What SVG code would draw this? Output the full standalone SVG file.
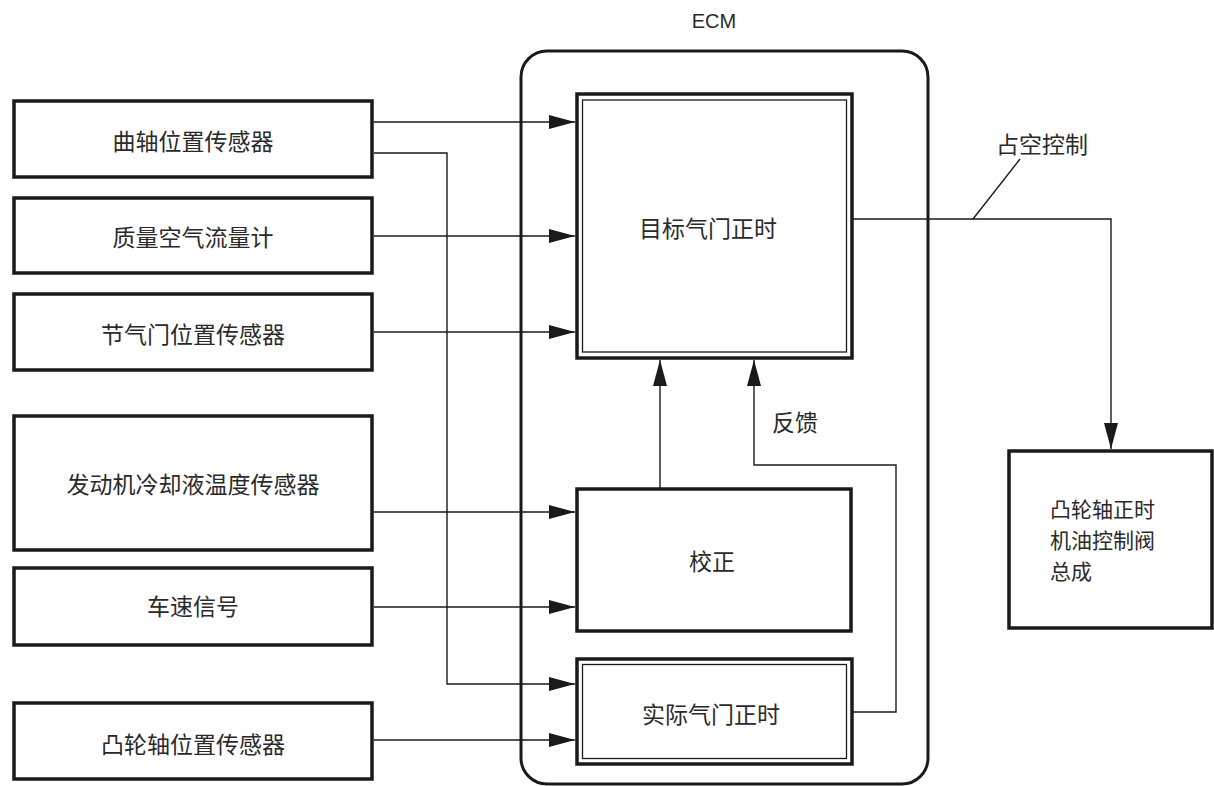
<svg xmlns="http://www.w3.org/2000/svg" width="1214" height="786" viewBox="0 0 1214 786">
<style>
.box{fill:#fff;stroke:#1a1a1a;stroke-width:3.5}
.inner{fill:none;stroke:#1a1a1a;stroke-width:1.3}
.t{font-family:"Noto Sans CJK SC","Liberation Serif",serif;font-size:23px;fill:#2a2a2a;text-anchor:middle;dominant-baseline:central}
.s{font-family:"Noto Sans CJK SC","Liberation Serif",serif;font-size:21px;fill:#2a2a2a;text-anchor:start;dominant-baseline:central}
.c{fill:none;stroke:#1a1a1a;stroke-width:1.4}
</style>
<defs>
<marker id="ah" markerUnits="userSpaceOnUse" markerWidth="26" markerHeight="14" refX="26" refY="7" orient="auto">
<path d="M0,0 L26,7 L0,14 Z" fill="#1a1a1a"/>
</marker>
</defs>
<rect x="0" y="0" width="1214" height="786" fill="#fff"/>
<g id="ecm">
<rect x="521" y="51" width="407" height="733" rx="26" ry="26" fill="none" stroke="#1a1a1a" stroke-width="3"/>
<text x="714" y="21" font-family="Liberation Sans,Arial,sans-serif" font-size="20" fill="#2a2a2a" text-anchor="middle" dominant-baseline="central">ECM</text>
</g>
<g id="crank">
<rect class="box" x="14" y="101" width="358" height="76"/>
<text class="t" x="193" y="140">曲轴位置传感器</text>
</g>
<g id="maf">
<rect class="box" x="14" y="198" width="358" height="75"/>
<text class="t" x="193" y="236">质量空气流量计</text>
</g>
<g id="tps">
<rect class="box" x="14" y="294" width="358" height="76"/>
<text class="t" x="193" y="333">节气门位置传感器</text>
</g>
<g id="ect">
<rect class="box" x="14" y="416" width="358" height="134"/>
<text class="t" x="193" y="483">发动机冷却液温度传感器</text>
</g>
<g id="vss">
<rect class="box" x="14" y="568" width="358" height="77"/>
<text class="t" x="193" y="605">车速信号</text>
</g>
<g id="cmp">
<rect class="box" x="14" y="703" width="358" height="76"/>
<text class="t" x="193" y="743">凸轮轴位置传感器</text>
</g>
<g id="target">
<rect class="box" x="577" y="94" width="275" height="264"/>
<rect class="inner" x="582.5" y="100" width="264" height="252"/>
<text class="t" x="708" y="227">目标气门正时</text>
</g>
<g id="correction">
<rect class="box" x="577" y="489" width="274" height="142"/>
<text class="t" x="712" y="560">校正</text>
</g>
<g id="actual">
<rect class="box" x="577" y="659" width="275" height="105"/>
<rect class="inner" x="582.5" y="664.5" width="264" height="94"/>
<text class="t" x="711" y="713">实际气门正时</text>
</g>
<g id="ocv">
<rect class="box" x="1009" y="451" width="203" height="177"/>
<text class="s" x="1050" y="508">凸轮轴正时</text>
<text class="s" x="1050" y="539">机油控制阀</text>
<text class="s" x="1050" y="570">总成</text>
</g>
<g id="connectors">
<line class="c" x1="374" y1="122" x2="575" y2="122" stroke-width="2.4" marker-end="url(#ah)"/>
<line class="c" x1="374" y1="236" x2="575" y2="236" marker-end="url(#ah)"/>
<line class="c" x1="374" y1="332" x2="575" y2="332" marker-end="url(#ah)"/>
<line class="c" x1="374" y1="512" x2="575" y2="512" marker-end="url(#ah)"/>
<line class="c" x1="374" y1="607" x2="575" y2="607" marker-end="url(#ah)"/>
<line class="c" x1="374" y1="740" x2="575" y2="740" marker-end="url(#ah)"/>
<polyline class="c" points="374,153 447,153 447,684 575,684" marker-end="url(#ah)"/>
<line class="c" x1="660" y1="488" x2="660" y2="360" marker-end="url(#ah)"/>
<polyline class="c" points="853,712 896,712 896,465 754,465 754,360" marker-end="url(#ah)"/>
<polyline class="c" points="853,219 1111,219 1111,449" marker-end="url(#ah)"/>
<line class="c" x1="1020" y1="159" x2="973" y2="219" stroke-width="1.8"/>
<text class="t" x="1042" y="143">占空控制</text>
<text class="t" x="795" y="421">反馈</text>
</g>
</svg>
